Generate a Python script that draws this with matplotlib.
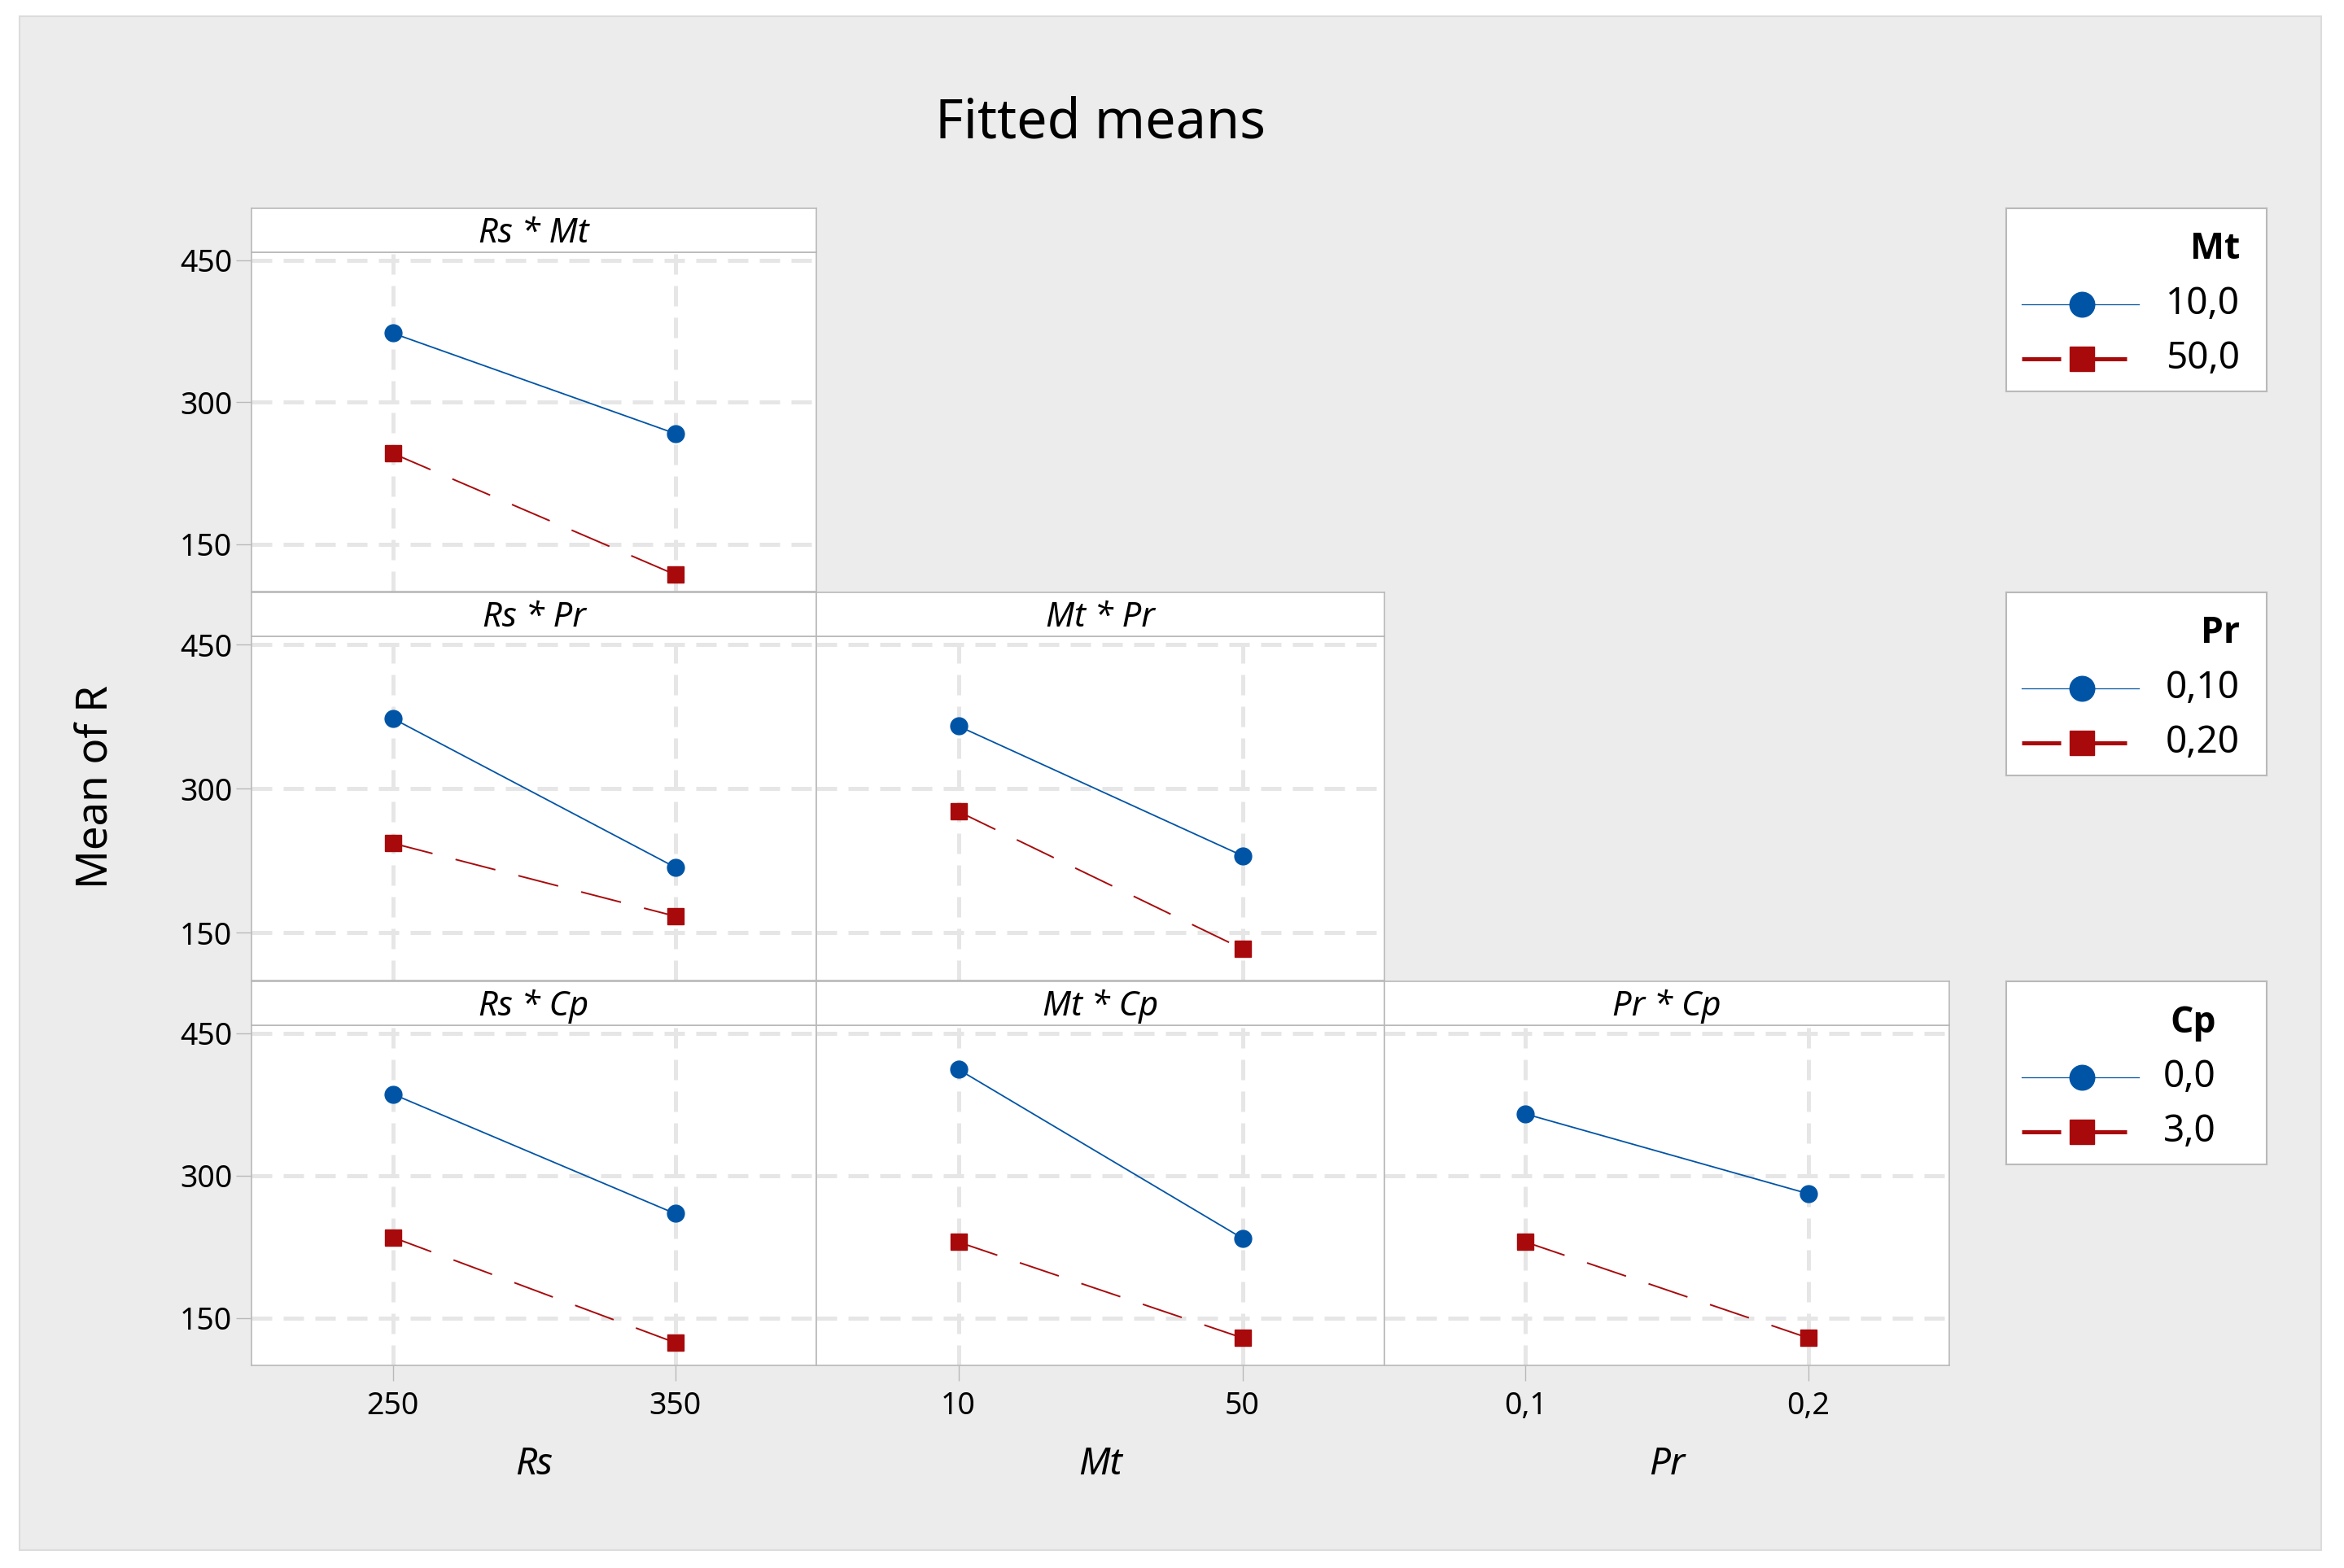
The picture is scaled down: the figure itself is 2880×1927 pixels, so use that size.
import matplotlib
matplotlib.use("Agg")
import matplotlib.pyplot as plt
from matplotlib.patches import Rectangle

plt.rcParams['font.family'] = ['Noto Sans', 'DejaVu Sans']

# data (fitted means of R)
rs_levels = ["250", "350"]
mt_levels = ["10", "50"]
pr_levels = ["0,1", "0,2"]

rs_mt_lo = [373, 267]   # Mt = 10
rs_mt_hi = [246, 118]   # Mt = 50
rs_pr_lo = [373, 218]   # Pr = 0,10
rs_pr_hi = [243, 167]   # Pr = 0,20
mt_pr_lo = [365, 230]
mt_pr_hi = [276, 133]
rs_cp_lo = [386, 260]   # Cp = 0,0
rs_cp_hi = [235, 124]   # Cp = 3,0
mt_cp_lo = [412, 234]
mt_cp_hi = [230, 129]
pr_cp_lo = [365, 281]
pr_cp_hi = [230, 129]

legend_titles = ["Mt", "Pr", "Cp"]
legend_labels = [["10,0", "50,0"], ["0,10", "0,20"], ["0,0", "3,0"]]
x_names = ["Rs", "Mt", "Pr"]
y_ticks = [150, 300, 450]

BLUE = "#0054a6"
RED = "#a80a0c"
GRID = "#e6e6e6"
EDGE = "#b9b9b9"
BG = "#ececec"

W, H = 2880, 1927


def rect(x0, y0, x1, y1):
    return [x0 / W, 1 - y1 / H, (x1 - x0) / W, (y1 - y0) / H]


fig = plt.figure(figsize=(W / 100, H / 100), dpi=100)
fig.patches.append(Rectangle((24 / W, 1 - 1905 / H), (2852 - 24) / W, (1905 - 20) / H,
                             transform=fig.transFigure, facecolor=BG,
                             edgecolor="#dcdcdc", lw=1.5, zorder=-10))

cols = [309, 1003, 1701, 2395]
head_top = [256, 728, 1206]
plot_top = [310, 782, 1260]
plot_bot = [727, 1205, 1678]

panels = {
    (0, 0): ("Rs * Mt", rs_mt_lo, rs_mt_hi),
    (1, 0): ("Rs * Pr", rs_pr_lo, rs_pr_hi),
    (1, 1): ("Mt * Pr", mt_pr_lo, mt_pr_hi),
    (2, 0): ("Rs * Cp", rs_cp_lo, rs_cp_hi),
    (2, 1): ("Mt * Cp", mt_cp_lo, mt_cp_hi),
    (2, 2): ("Pr * Cp", pr_cp_lo, pr_cp_hi),
}
xlabels = [rs_levels, mt_levels, pr_levels]

for (r, c), (name, lo, hi) in panels.items():
    ax = fig.add_axes(rect(cols[c], plot_top[r], cols[c + 1], plot_bot[r]))
    ax.set_facecolor("white")
    ax.set_xlim(-0.5, 1.5)
    ax.set_ylim(100, 458.5)
    for v in y_ticks:
        ax.axhline(v, color=GRID, lw=3.6, ls=(0, (5, 2.8)), zorder=1)
    for v in [0, 1]:
        ax.axvline(v, color=GRID, lw=3.6, ls=(0, (5, 2.8)), zorder=1)
    ax.plot([0, 1], lo, color=BLUE, lw=1.3, marker="o", ms=15, zorder=3)
    ax.plot([0, 1], hi, color=RED, lw=1.4, ls=(0, (26, 15)), marker="s", ms=14.5, zorder=3)
    for s in ax.spines.values():
        s.set_color(EDGE)
        s.set_linewidth(1.2)
    ax.set_yticks(y_ticks)
    ax.set_xticks([0, 1])
    ax.tick_params(length=14, width=1, color=EDGE, labelsize=27, pad=3)
    if c == 0:
        ax.set_yticklabels([str(v) for v in y_ticks])
    else:
        ax.tick_params(axis="y", left=False, labelleft=False)
    if r == 2:
        ax.set_xticklabels(xlabels[c])
        ax.tick_params(axis="x", pad=8)
        ax.set_xlabel(x_names[c], fontsize=33, style="italic", labelpad=22)
    else:
        ax.tick_params(axis="x", bottom=False, labelbottom=False)

    hx = fig.add_axes(rect(cols[c], head_top[r], cols[c + 1], plot_top[r]))
    hx.set_facecolor("white")
    hx.set_xticks([])
    hx.set_yticks([])
    for s in hx.spines.values():
        s.set_color(EDGE)
        s.set_linewidth(1.2)
    hx.text(0.5, 0.42, name, fontsize=30, style="italic", ha="center", va="center",
            transform=hx.transAxes)

# legends, one per row
for r in range(3):
    lg = fig.add_axes(rect(2465, head_top[r], 2785, head_top[r] + 225))
    lg.set_xlim(2465, 2785)
    lg.set_ylim(head_top[r] + 225, head_top[r])
    lg.set_xticks([])
    lg.set_yticks([])
    lg.set_facecolor("white")
    for s in lg.spines.values():
        s.set_color(EDGE)
        s.set_linewidth(1.5)
    right = 2752 if r < 2 else 2723
    t = head_top[r]
    lg.text(right, t + 51, legend_titles[r], fontsize=32, fontweight="bold",
            family=["Open Sans", "Noto Sans", "DejaVu Sans"], ha="right", va="center")
    lg.plot([2484, 2628], [t + 118, t + 118], color=BLUE, lw=0.9)
    lg.plot([2558], [t + 118], color=BLUE, marker="o", ms=22, ls="none")
    lg.plot([2484, 2613], [t + 185, t + 185], color=RED, lw=3.6, ls=(0, (9.6, 7.7)))
    lg.plot([2558], [t + 185], color=RED, marker="s", ms=21, ls="none")
    lg.text(right, t + 118, legend_labels[r][0], fontsize=33, ha="right", va="center")
    lg.text(right, t + 185, legend_labels[r][1], fontsize=33, ha="right", va="center")

fig.text(1352 / W, 1 - 151 / H, "Fitted means", fontsize=48, ha="center", va="center")
fig.text(119 / W, 1 - 967 / H, "Mean of R", fontsize=38, rotation=90, ha="center", va="center")

fig.savefig("out.png", dpi=100, facecolor="white")
